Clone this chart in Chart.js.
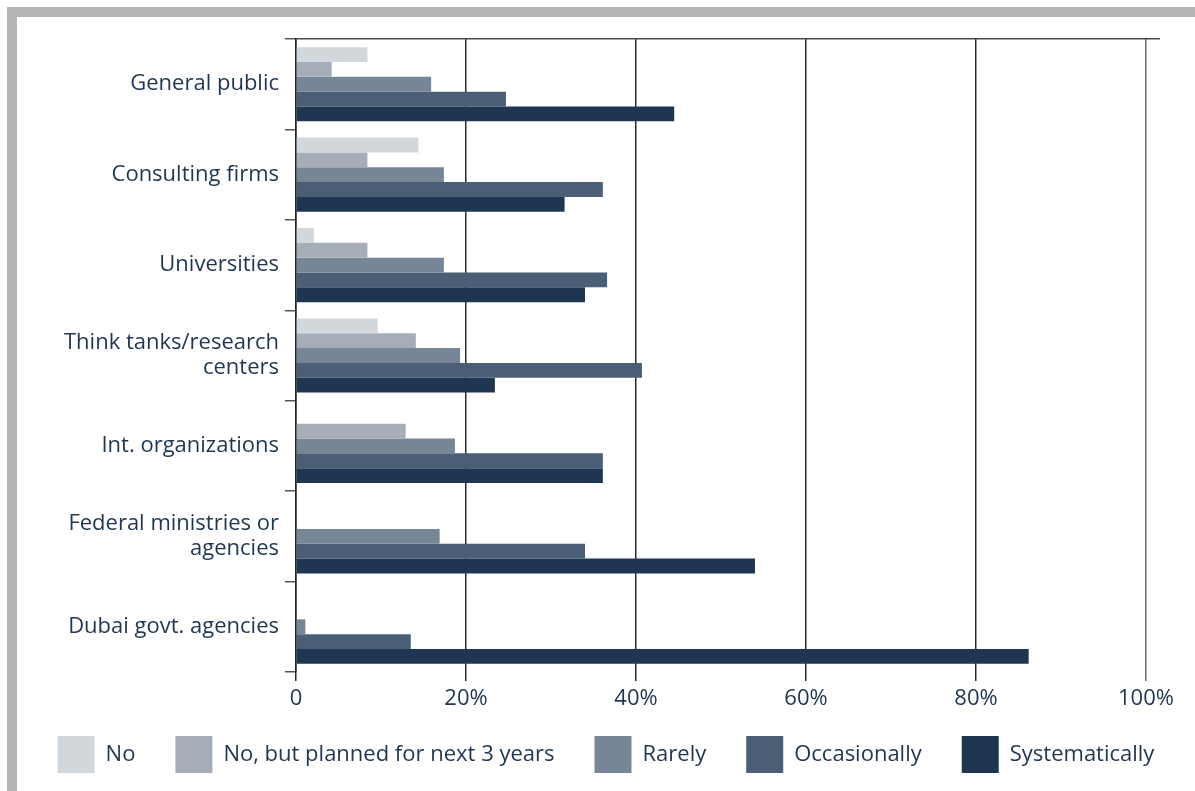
<!DOCTYPE html>
<html>
<head>
<meta charset="utf-8">
<script src="https://cdn.jsdelivr.net/npm/chart.js@4.4.1/dist/chart.umd.min.js"></script>
<style>
  html, body { margin: 0; padding: 0; background: #fff; width: 1195px; height: 791px; overflow: hidden; }
  .frame { position: absolute; left: 7px; top: 7px; width: 1188px; height: 784px;
           border-top: 10px solid #b4b5b4; border-left: 10px solid #b4b5b4; box-sizing: border-box; }
  .wrap { position: absolute; left: 17px; top: 17px; width: 1178px; height: 774px; }
</style>
</head>
<body>
<div class="frame"></div>
<div class="wrap"><canvas id="chart" width="1178" height="774"></canvas></div>
<script>
// Who the results are shared with, by frequency (% of respondents)
const categories = [
  'General public',
  'Consulting firms',
  'Universities',
  ['Think tanks/research', 'centers'],
  'Int. organizations',
  ['Federal ministries or', 'agencies'],
  'Dubai govt. agencies'
];
const seriesNames = ['No', 'No, but planned for next 3 years', 'Rarely', 'Occasionally', 'Systematically'];
const no             = [8.4, 14.4, 2.1, 9.6, 0, 0, 0];
const plannedNext3   = [4.2, 8.4, 8.4, 14.1, 12.9, 0, 0];
const rarely         = [15.9, 17.4, 17.4, 19.3, 18.7, 16.9, 1.1];
const occasionally   = [24.7, 36.1, 36.6, 40.7, 36.1, 34.0, 13.5];
const systematically = [44.5, 31.6, 34.0, 23.4, 36.1, 54.0, 86.2];
const xTicks = [0, 20, 40, 60, 80, 100];

const colors = ['#d2d7db', '#a5aeb8', '#778696', '#4a5e76', '#1f3652'];
const seriesValues = [no, plannedNext3, rarely, occasionally, systematically];
const textColor = '#1f3652';
const FONT = 'Open Sans';

const datasets = seriesNames.map((name, i) => ({
  label: name,
  data: seriesValues[i],
  backgroundColor: colors[i],
  borderWidth: 0,
  categoryPercentage: 0.82,
  barPercentage: 1.0
}));

new Chart(document.getElementById('chart'), {
  type: 'bar',
  data: { labels: categories, datasets },
  options: {
    indexAxis: 'y',
    responsive: false,
    animation: false,
    layout: { padding: { top: 22, right: 0, bottom: 8, left: 0 } },
    plugins: {
      tooltip: { enabled: false },
      legend: {
        position: 'bottom',
        labels: {
          boxWidth: 37,
          boxHeight: 37,
          padding: 40,
          color: textColor,
          font: { family: FONT, size: 22 }
        }
      }
    },
    scales: {
      x: {
        min: 0,
        max: 101.65,
        afterBuildTicks: s => { s.ticks = xTicks.map(v => ({ value: v })); },
        afterFit: s => { s.height = 24; },
        grid: {
          color: c => (c.tick && c.tick.value === 100) ? '#6b6b6b' : '#2a2a2a',
          lineWidth: 1.5,
          tickLength: 9
        },
        border: { display: false },
        ticks: {
          // mirrored with a negative padding: labels sit below the axis
          // without being clipped to the (short) axis box
          mirror: true,
          padding: -40,
          color: textColor,
          font: { family: FONT, size: 22 },
          callback: v => v === 0 ? '0' : v + '%'
        }
      },
      y: {
        afterFit: s => { s.width = 279; },
        grid: {
          offset: true,
          color: c => (c.index === 0 || c.index === categories.length) ? '#4a4a4a' : 'rgba(0,0,0,0)',
          tickColor: '#555',
          lineWidth: 1.5,
          tickLength: 11
        },
        border: { display: true, color: '#222', width: 1.5 },
        ticks: {
          color: textColor,
          padding: 6,
          font: { family: FONT, size: 22, lineHeight: 1.14 }
        }
      },
      // empty right-hand margin so the top and bottom rules run past 100%
      yRight: {
        type: 'category',
        position: 'right',
        labels: categories,
        afterFit: s => { s.width = 35; },
        grid: { display: false },
        border: { display: false },
        ticks: { display: false }
      }
    }
  }
});
</script>
</body>
</html>
